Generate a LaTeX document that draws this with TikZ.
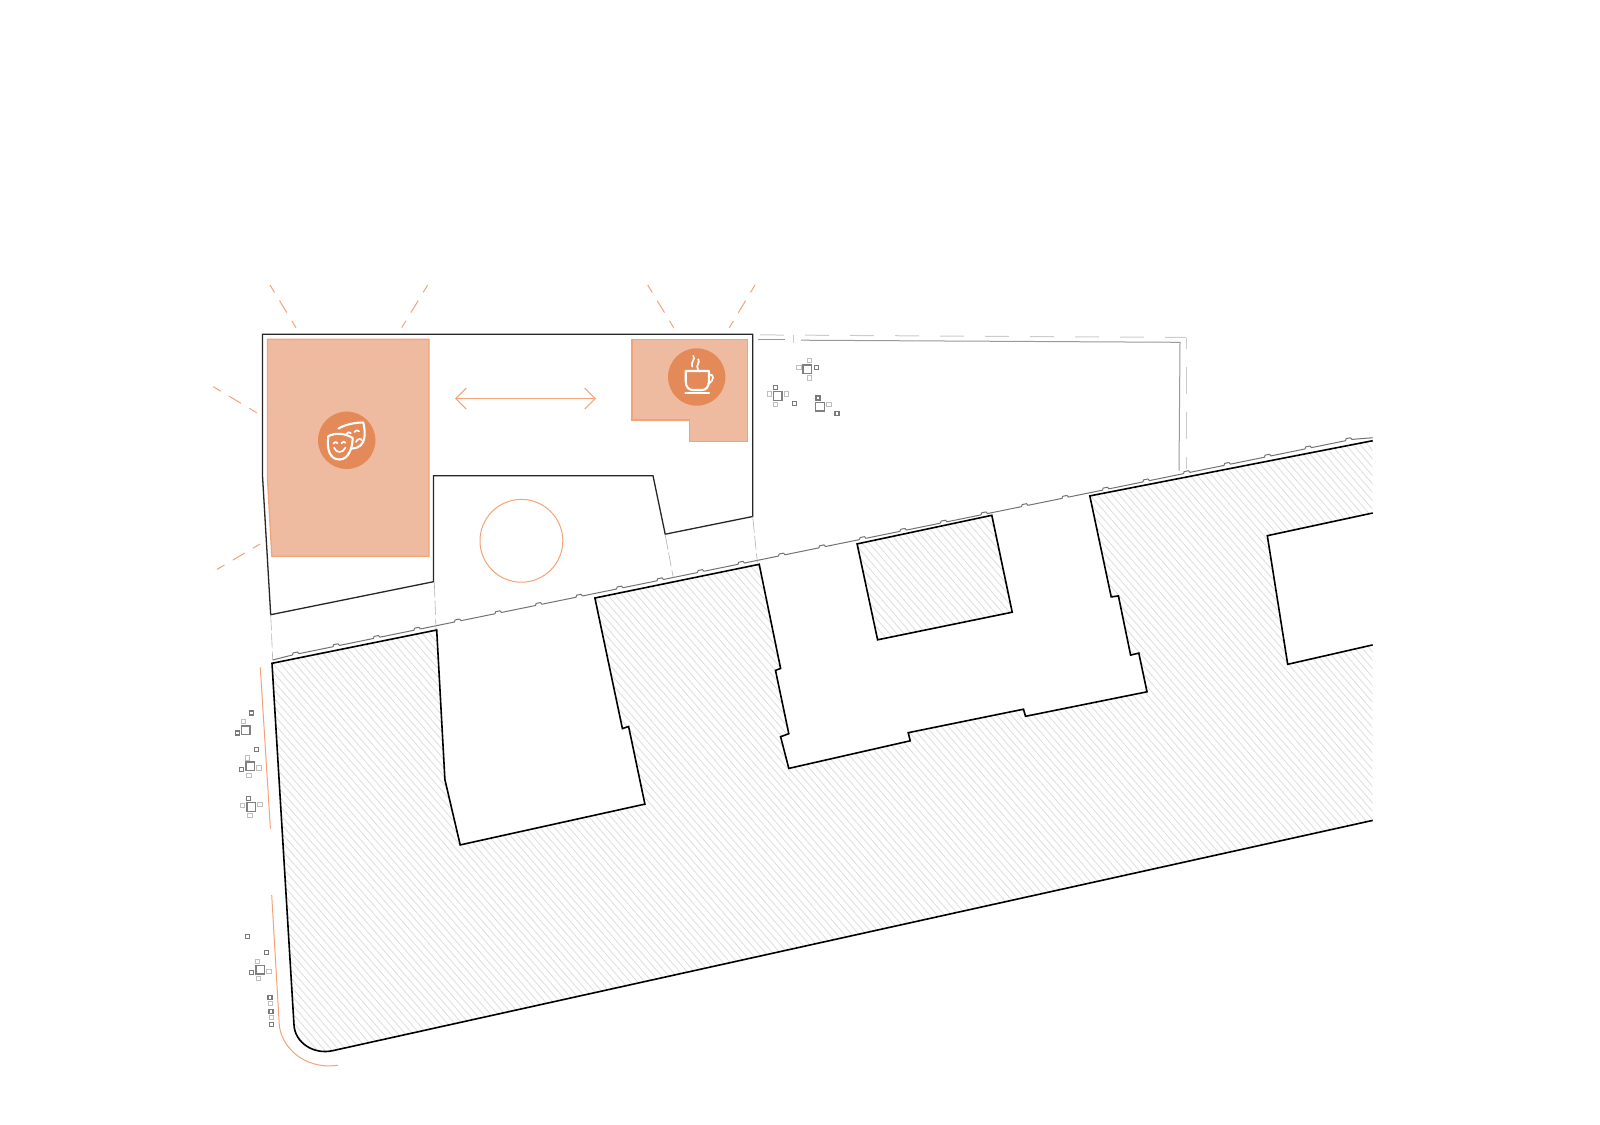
\documentclass[tikz,border=0pt]{standalone}
\usetikzlibrary{arrows.meta}
\definecolor{orfill}{HTML}{EFBBA0}
\definecolor{orline}{HTML}{F4A27A}
\definecolor{orcirc}{HTML}{E38A58}
\definecolor{hatchc}{HTML}{DEDEDE}
\newcommand{\tbig}[2]{\draw[treebig] ({#1-4.2},{#2-4.2}) rectangle ++(8.4,8.4);}
\newcommand{\tdark}[2]{\draw[treedark] ({#1-2},{#2-2}) rectangle ++(4,4);}
\newcommand{\tlight}[2]{\draw[treelight] ({#1-2.2},{#2-2.2}) rectangle ++(4.4,4.4);}
\tikzset{
  sitewall/.style={line width=1.6pt,black,line join=miter},
  bldg/.style={line width=1.3pt,black!85,line join=miter},
  orshape/.style={fill=orfill,draw=orline,line width=1.3pt},
  ray/.style={orline,line width=1pt,dash pattern=on 8.7pt off 9.6pt on 14pt off 9.6pt on 8.7pt},
  orthin/.style={orline,line width=1pt},
  ghost/.style={black!30,line width=0.6pt,dash pattern=on 16pt off 3pt on 14pt off 4pt},
  ghostin/.style={black!40,line width=1pt},
  ghostout/.style={black!20,line width=1pt},
  wall/.style={black!55,line width=1pt,line join=round},
  treebig/.style={black!50,line width=1.3pt},
  treedark/.style={black!52,line width=1.2pt},
  treelight/.style={black!25,line width=1pt},
  icon/.style={white,line width=2.1pt,line cap=round,line join=round},
  iconthin/.style={white,line width=1.7pt,line cap=round,line join=round},
  hatchline/.style={hatchc,line width=0.8pt},
}
\begin{document}
\begin{tikzpicture}[x=1pt,y=-1pt]
\useasboundingbox (0,0) rectangle (1600,1124);
\fill[white] (0,0) rectangle (1600,1124);
% hatch
\begin{scope}
\clip (272,663.3) -- (436.7,630) -- (444.9,779.6) -- (460.2,844.9) -- (644.9,804.1) -- (628.6,726.5) -- (622.4,728.6) -- (594.9,598) -- (759.2,564.3) -- (780.6,668.4) -- (775.5,670.4) -- (788.8,733.7) -- (780.6,736.7) -- (788.8,768.4) -- (910.2,740.8) -- (908.2,732.7) -- (1023.5,709.2) -- (1025.5,716.3) -- (1147,691.8) -- (1138.8,653.1) -- (1130.6,655.1) -- (1118.4,595.9) -- (1111.2,596.9) -- (1089.8,495.9) -- (1372.7,440.7) -- (1372.7,513) -- (1267.3,535.7) -- (1287.7,664.3) -- (1372.7,644.9) -- (1372.7,820.4) -- (333,1050.6) .. controls (314,1055) and (295,1043) .. (294,1025) -- cycle
 (857.1,543.9) -- (991.8,515.3) -- (1012.2,612.2) -- (877.6,639.8) -- cycle;
\foreach \c in {-1000,-992.7,...,1400} {
  \draw[hatchline] (\c,400) -- ({\c+800},1320);
}
\end{scope}
% site outline
\draw[sitewall] (1372.7,820.4) -- (333,1050.6) .. controls (314,1055) and (295,1043) .. (294,1025) -- (272,663.3) -- (436.7,630) -- (444.9,779.6) -- (460.2,844.9) -- (644.9,804.1) -- (628.6,726.5) -- (622.4,728.6) -- (594.9,598) -- (759.2,564.3) -- (780.6,668.4) -- (775.5,670.4) -- (788.8,733.7) -- (780.6,736.7) -- (788.8,768.4) -- (910.2,740.8) -- (908.2,732.7) -- (1023.5,709.2) -- (1025.5,716.3) -- (1147,691.8) -- (1138.8,653.1) -- (1130.6,655.1) -- (1118.4,595.9) -- (1111.2,596.9) -- (1089.8,495.9) -- (1372.7,440.7);
\draw[sitewall] (1372.7,513) -- (1267.3,535.7) -- (1287.7,664.3) -- (1372.7,644.9);
\draw[sitewall] (857.1,543.9) -- (991.8,515.3) -- (1012.2,612.2) -- (877.6,639.8) -- cycle;
% wall line with bumps
\draw[wall] (272.7,660) \foreach \i [evaluate=\i as \bx using 295.7+\i*40.5, evaluate=\i as \by using 654.3-\i*8.24] in {0,...,26} {
  -- ({\bx-3.2},{\by+0.65}) -- ({\bx-2.6},{\by-1.4}) -- ({\bx+1.8},{\by-2.3}) -- ({\bx+3.2},{\by-0.65}) } -- (1372.7,437.7);
% orange shapes
\draw[orshape] (267.4,339.2) -- (429,339.2) -- (429,556.2) -- (271.8,556.2) -- (267.4,476.7) -- cycle;
\draw[orshape] (632.1,339.2) -- (747.8,339.2) -- (747.8,441.8) -- (689.8,441.8) -- (689.8,420) -- (632.1,420) -- cycle;
% building
\draw[bldg] (262.5,334.2) -- (752.7,334.2) -- (752.7,516.5) -- (665.2,534.2) -- (653,475.7) -- (433.5,475.7) -- (433.5,581.7) -- (270.7,614.7) -- (262.5,475.7) -- cycle;
% ghost continuations
\draw[ghost] (270.7,614.7) -- (272.7,660);
\draw[ghost] (434.3,581.7) -- (436,629);
\draw[ghost] (665,534) -- (673.3,577.7);
\draw[ghost] (752.7,516.7) -- (757.3,562);
% ghost outline upper right
\draw[ghostin] (758,339.6) -- (785,339.6);
\draw[ghostout] (793.3,335) -- (793.3,343);
\draw[ghostin] (801,340.2) -- (1180,342.3) -- (1179,470.7);
\draw[ghostout,dash pattern=on 24pt off 21pt] (760,334.9) -- (1186,337.5);
\draw[ghostout,dash pattern=on 27pt off 18pt,dash phase=16pt] (1186,338) -- (1186,469);
% rays
\draw[ray] (270,285) -- (296,327.7);
\draw[ray] (427.7,285) -- (401.7,327.7);
\draw[ray] (647.7,285) -- (673.7,327.7);
\draw[ray] (755,285) -- (729.3,327.7);
\draw[ray] (213.3,386.7) -- (256.7,412.7);
\draw[ray] (217,569.4) -- (260,544);
% double arrow
\coordinate (arL) at (455,398.6);
\coordinate (arR) at (596,398.6);
\draw[orthin,{Straight Barb[length=10.5pt,width=21pt]}-{Straight Barb[length=10.5pt,width=21pt]}] (arL) -- (arR);
% circle
\node[circle,draw=orline,line width=1pt,minimum size=82.8pt,inner sep=0pt] (plaza) at (521.4,540.8) {};
% theatre icon
\fill[orcirc] (346.7,440.3) circle (28.7);
\draw[icon] (338.5,428.5) .. controls (345,424.5) and (355,422.5) .. (363.3,422.5) .. controls (365.5,432) and (367,447.5) .. (352.5,448.5);
\draw[icon,fill=orcirc] (328.3,436.2) .. controls (335,432.5) and (345,433) .. (352.7,438) .. controls (352.5,447) and (349,459.5) .. (339.5,459.5) .. controls (330,459.5) and (326.5,450) .. (328.3,436.2);
\draw[iconthin] (333.5,443.5) .. controls (334.5,441.5) and (336.5,441.5) .. (337.5,443.2);
\draw[iconthin] (341.5,443.2) .. controls (342.5,441.2) and (344.5,441.2) .. (345.5,442.8);
\draw[iconthin] (334,447.5) .. controls (336,453.5) and (343,453.5) .. (345.5,447.5);
\draw[iconthin] (346.5,434) .. controls (347.5,431.8) and (349.5,431.6) .. (350.8,433.2);
\draw[iconthin] (354.5,432) .. controls (355.5,430) and (357.5,429.8) .. (359,431.2);
\draw[iconthin] (356,442) .. controls (357.5,438.5) and (361,438) .. (362,440.5);
% coffee icon
\fill[orcirc] (696.7,377) circle (28.7);
\draw[icon] (685.7,371) -- (709,371) -- (709,381) .. controls (709,387) and (706,390) .. (702,390) -- (692.7,390) .. controls (688.7,390) and (685.7,387) .. (685.7,381) -- cycle;
\draw[iconthin] (709,374.5) .. controls (714,373.5) and (715,380.5) .. (708,384);
\draw[icon] (685.3,392.7) -- (709,392.7);
\draw[iconthin] (693.3,355.7) .. controls (696,359.5) and (690,362.5) .. (692.2,366.7);
\draw[iconthin] (698.3,359.3) .. controls (700.5,363) and (695,365.5) .. (698.2,369.5);
% orange street lines
\draw[orthin] (260.3,667.3) -- (270.4,828.6);
\draw[orthin] (271.7,895) -- (279.3,1025) .. controls (281,1045) and (302,1070) .. (337.8,1065.3);
% trees
\tbig{807.3}{369.3}\tlight{809.7}{360.7}\tlight{799}{367.3}\tlight{809.7}{378}\tdark{816.3}{367.3}
\tbig{777.7}{396}\tdark{775.7}{387.3}\tlight{769.3}{394}\tlight{786.3}{394}\tlight{775.7}{404.3}\tdark{794.7}{403.3}
\tbig{820}{406.7}\tdark{818}{398}\tlight{829}{404.7}\tdark{837}{413.7}
\tbig{245.7}{730.3}\tdark{251.7}{713}\tlight{243.3}{721.7}\tdark{237.3}{733}
\tbig{250.3}{766.3}\tdark{256.3}{749.3}\tlight{247.7}{758}\tdark{241.7}{769.3}\tlight{259}{768}\tlight{249}{775.3}
\tbig{251.3}{807}\tdark{248.7}{798.3}\tlight{242.7}{805.3}\tlight{260}{804.3}\tlight{250}{815.7}
\tdark{247.3}{936.3}\tdark{266.3}{952.3}\tbig{260.3}{969.7}\tlight{257.3}{961.3}\tdark{251.7}{972.3}\tlight{269}{971.3}\tlight{258.7}{978.3}
\tdark{270}{997.3}\tlight{270.3}{1003.7}\tdark{271}{1011.3}\tlight{271.3}{1017.7}\tdark{271.7}{1024.3}
\end{tikzpicture}
\end{document}
